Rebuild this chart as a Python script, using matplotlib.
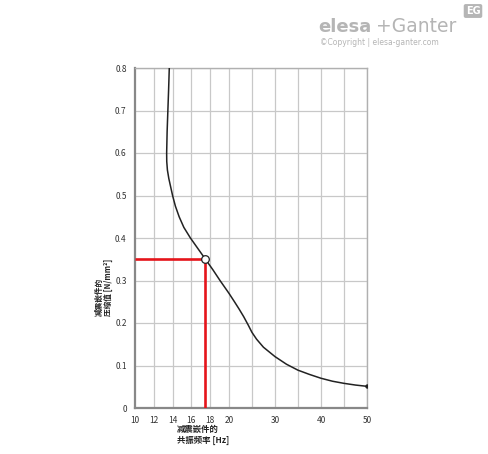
import numpy as np
import matplotlib
matplotlib.use("Agg")
import matplotlib.pyplot as plt

plt.rcParams['font.family'] = ['Noto Sans CJK SC', 'DejaVu Sans']

# curve: frequency [Hz] vs load [N/mm2]
freq = [13.65, 13.58, 13.5, 13.42, 13.37, 13.38, 13.45, 13.6, 13.8, 14.0, 14.3,
        14.7, 15.2, 15.9, 16.7, 17.5, 18.3, 19.05, 20.0, 21.2, 22.2, 23.2, 24.2,
        25.0, 26.0, 27.5, 30.0, 32.5, 35.0, 37.5, 40.0, 42.5, 45.0, 47.5, 50.0]
load = [0.80, 0.75, 0.70, 0.65, 0.60, 0.58, 0.56, 0.54, 0.52, 0.50, 0.475,
        0.45, 0.425, 0.40, 0.375, 0.35, 0.325, 0.30, 0.27, 0.25, 0.233, 0.215, 0.195,
        0.178, 0.162, 0.143, 0.121, 0.103, 0.089, 0.079, 0.070, 0.063, 0.058, 0.054, 0.051]

point_f = 17.5
point_l = 0.35

xticks = [10, 12, 14, 16, 18, 20, 30, 40, 50]
xgrid = [12, 14, 16, 18, 20, 25, 30, 35, 40, 45, 50]
yticks = [0, 0.1, 0.2, 0.3, 0.4, 0.5, 0.6, 0.7, 0.8]
ytick_labels = ["0", "0.1", "0.2", "0.3", "0.4", "0.5", "0.6", "0.7", "0.8"]

K = 0.49  # compression of the axis above 20 Hz


def fwd(x):
    x = np.asarray(x, dtype=float)
    return np.where(x <= 20, x, 20 + (x - 20) * K)


def inv(u):
    u = np.asarray(u, dtype=float)
    return np.where(u <= 20, u, 20 + (u - 20) / K)


fig = plt.figure(figsize=(4.88, 4.54), dpi=100)
ax = fig.add_axes([135 / 488, 1 - 408 / 454, 232 / 488, 340 / 454])
ax.set_xscale('function', functions=(fwd, inv))
ax.set_xlim(10, 50)
ax.set_ylim(0, 0.8)

for g in xgrid:
    ax.axvline(g, color='#c8c8c8', lw=0.9, zorder=1)
for g in yticks[1:]:
    ax.axhline(g, color='#c8c8c8', lw=0.9, zorder=1)

ax.plot(freq, load, color='#222222', lw=1.1, zorder=3)
ax.plot([10, point_f], [point_l, point_l], color='#e5141b', lw=1.9, zorder=4,
        solid_capstyle='butt')
ax.plot([point_f, point_f], [0, point_l], color='#e5141b', lw=1.9, zorder=4,
        solid_capstyle='butt')
ax.plot([point_f], [point_l], 'o', ms=5.5, mfc='white', mec='#222222', mew=0.9, zorder=5)
ax.plot([freq[-1]], [load[-1]], 'o', ms=2.2, color='#222222', zorder=5)

ax.set_xticks(xticks)
ax.set_xticklabels([str(t) for t in xticks])
ax.set_yticks(yticks)
ax.set_yticklabels(ytick_labels)
ax.minorticks_off()
ax.tick_params(length=0, labelsize=6, colors='#333333', pad=6)

for s in ['top', 'right']:
    ax.spines[s].set_color('#b0b0b0')
    ax.spines[s].set_linewidth(1.0)
for s in ['left', 'bottom']:
    ax.spines[s].set_color('#888888')
    ax.spines[s].set_linewidth(1.6)

fig.text(95 / 488, 1 - 316 / 454, "减震嵌件的\n压缩值 [N/mm²]", rotation=90,
         fontsize=5.5, fontweight='bold', color='#222222', ha='left', va='bottom',
         linespacing=1.05)
fig.text(177 / 488, 1 - 425 / 454, "减震嵌件的\n共振频率 [Hz]",
         fontsize=6, fontweight='bold', color='#222222', ha='left', va='top',
         linespacing=1.2)

# logo
fig.text(318 / 488, 1 - 32 / 454, "elesa", fontsize=13, fontweight='bold',
         color='#b5b5b5', ha='left', va='baseline', family='DejaVu Sans')
fig.text(456 / 488, 1 - 32 / 454, "+Ganter", fontsize=13.5, color='#b5b5b5',
         ha='right', va='baseline', family='DejaVu Sans')
fig.text(320 / 488, 1 - 45 / 454, "©Copyright | elesa-ganter.com", fontsize=5.5,
         color='#b5b5b5', ha='left', va='baseline', family='DejaVu Sans')
fig.text(473 / 488, 1 - 11 / 454, "EG", fontsize=7, fontweight='bold', color='white',
         ha='center', va='center', family='DejaVu Sans',
         bbox=dict(boxstyle='round,pad=0.2', fc='#b5b5b5', ec='none'))

fig.savefig("out.png", dpi=100)
